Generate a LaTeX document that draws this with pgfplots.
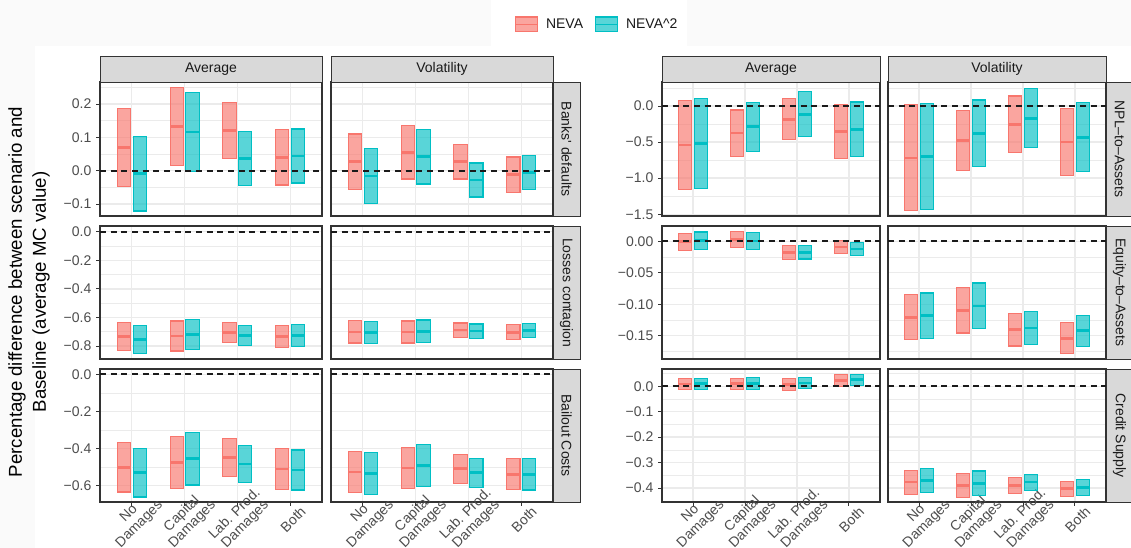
\documentclass[border=0pt]{standalone}
\usepackage{fontspec}
\setmainfont{Liberation Sans}
\usepackage{pgfplots}
\pgfplotsset{compat=1.18}
\definecolor{cR}{HTML}{F8766D}
\definecolor{cT}{HTML}{00BFC4}
\definecolor{g10}{HTML}{1A1A1A}
\definecolor{g20}{HTML}{333333}
\definecolor{g30}{HTML}{4D4D4D}
\definecolor{g85}{HTML}{D9D9D9}
\definecolor{g92}{HTML}{EBEBEB}
\definecolor{bgc}{HTML}{FAFAFA}
\newcommand{\tickfont}{\fontsize{10.5}{12}\selectfont}
% box: colour, x-left, x-right, low, middle, high
\newcommand{\bx}[6]{%
\addplot[draw=#1, fill=#1, fill opacity=0.65, line width=0.8pt] coordinates {(#2,#4) (#3,#4) (#3,#6) (#2,#6)} -- cycle;
\addplot[draw=#1, line width=2pt] coordinates {(#2,#5) (#3,#5)};}
% one category: NEVA (low, mid, high), NEVA^2 (low, mid, high)
\newcommand{\cA}[6]{\bx{cR}{0.725}{0.975}{#1}{#2}{#3}\bx{cT}{1.025}{1.275}{#4}{#5}{#6}}
\newcommand{\cB}[6]{\bx{cR}{1.725}{1.975}{#1}{#2}{#3}\bx{cT}{2.025}{2.275}{#4}{#5}{#6}}
\newcommand{\cC}[6]{\bx{cR}{2.725}{2.975}{#1}{#2}{#3}\bx{cT}{3.025}{3.275}{#4}{#5}{#6}}
\newcommand{\cD}[6]{\bx{cR}{3.725}{3.975}{#1}{#2}{#3}\bx{cT}{4.025}{4.275}{#4}{#5}{#6}}
\newcommand{\zline}{\addplot[g10, line width=1.3pt, dash pattern=on 4.5pt off 3.5pt] coordinates {(0.4,0) (4.6,0)};}
\pgfplotsset{
 panel/.style={scale only axis, xmin=0.4, xmax=4.6, xtick={1,2,3,4}, xticklabels={},
  axis line style={draw=g20, line width=0.8pt}, major tick length=3pt, minor tick length=0pt,
  tick align=outside, tick pos=left, xmajorgrids, ymajorgrids, yminorgrids,
  major grid style={draw=g92, line width=1pt}, minor grid style={draw=g92, line width=0.5pt},
  tick style={draw=g20, line width=0.6pt}, xtick style={draw=none},
  ticklabel style={font=\tickfont, text=g30}},
 cL1/.style={width=166.5pt}, cL2/.style={width=166.5pt, yticklabels={}, ytick style={draw=none}},
 cR1/.style={width=163.5pt}, cR2/.style={width=163.5pt, yticklabels={}, ytick style={draw=none}},
 bottom/.style={xtick style={draw=g20, line width=0.6pt},
  xticklabels={{No\\Damages},{Capital\\Damages},{Lab. Prod.\\Damages},{Both}},
  xticklabel style={yshift=-10pt, xshift=2pt, rotate=45, anchor=center, align=center, font=\fontsize{10.5}{11}\selectfont}},
 rL1/.style={height=100.5pt, ymin=-0.136, ymax=0.266, ytick={-0.1,0,0.1,0.2}, yticklabels={−0.1,0.0,0.1,0.2}, minor ytick={-0.05,0.05,0.15,0.25}},
 rL2/.style={height=99.75pt, ymin=-0.891, ymax=0.04, ytick={-0.8,-0.6,-0.4,-0.2,0}, yticklabels={−0.8,−0.6,−0.4,−0.2,0.0}, minor ytick={-0.7,-0.5,-0.3,-0.1}},
 rL3/.style={height=99.75pt, ymin=-0.69, ymax=0.029, ytick={-0.6,-0.4,-0.2,0}, yticklabels={−0.6,−0.4,−0.2,0.0}, minor ytick={-0.5,-0.3,-0.1}},
 rR1/.style={height=100.5pt, ymin=-1.524, ymax=0.332, ytick={-1.5,-1,-0.5,0}, yticklabels={−1.5,−1.0,−0.5,0.0}, minor ytick={-1.25,-0.75,-0.25,0.25}},
 rR2/.style={height=99.75pt, ymin=-0.187, ymax=0.0243, ytick={-0.15,-0.1,-0.05,0}, yticklabels={−0.15,−0.10,−0.05,0.00}, minor ytick={-0.175,-0.125,-0.075,-0.025}},
 rR3/.style={height=99.75pt, ymin=-0.455, ymax=0.068, ytick={-0.4,-0.3,-0.2,-0.1,0}, yticklabels={−0.4,−0.3,−0.2,−0.1,0.0}, minor ytick={-0.35,-0.25,-0.15,-0.05,0.05}},
}
\begin{document}
\begin{tikzpicture}
\begin{scope}[x=0.75pt,y=0.75pt]
\fill[bgc] (0,0) rectangle (1131,548);
\fill[white] (35,0) rectangle (1131,502);
\fill[white] (491,502) rectangle (687,548);
\end{scope}
% ---------- Left group, row 1: Banks' defaults
\begin{axis}[panel, cL1, rL1, at={(75pt,249pt)},
  legend style={at={(2.24,1.429)}, anchor=center, draw=none, fill=none, font=\tickfont, text=g10,
  legend columns=2, /tikz/every even column/.append style={column sep=6.5pt},
  /tikz/every odd column/.append style={column sep=4pt}}]
\addlegendimage{legend image code/.code={\draw[draw=cR, fill=cR, fill opacity=0.65, line width=0.8pt] (0pt,-5.6pt) rectangle (16.5pt,5.6pt); \draw[cR, line width=1.2pt] (0pt,0pt) -- (16.5pt,0pt);}}
\addlegendentry{NEVA}
\addlegendimage{legend image code/.code={\draw[draw=cT, fill=cT, fill opacity=0.65, line width=0.8pt] (0pt,-5.6pt) rectangle (16.5pt,5.6pt); \draw[cT, line width=1.2pt] (0pt,0pt) -- (16.5pt,0pt);}}
\addlegendentry{NEVA\textasciicircum 2}
\cA{-0.048}{0.069}{0.186}{-0.121}{-0.009}{0.103}
\cB{0.015}{0.132}{0.249}{-0.002}{0.116}{0.234}
\cC{0.037}{0.121}{0.205}{-0.044}{0.037}{0.118}
\cD{-0.043}{0.040}{0.123}{-0.037}{0.044}{0.125}
\zline
\end{axis}
\begin{axis}[panel, rL1, cL2, at={(248.25pt,249pt)}]
\cA{-0.056}{0.027}{0.110}{-0.098}{-0.016}{0.066}
\cB{-0.025}{0.055}{0.135}{-0.040}{0.042}{0.124}
\cC{-0.025}{0.027}{0.079}{-0.079}{-0.028}{0.023}
\cD{-0.065}{-0.012}{0.041}{-0.056}{-0.005}{0.046}
\zline
\end{axis}
% ---------- Left group, row 2: Losses contagion
\begin{axis}[panel, cL1, rL2, at={(75pt,141.75pt)}]
\cA{-0.833}{-0.733}{-0.633}{-0.855}{-0.755}{-0.655}
\cB{-0.835}{-0.730}{-0.625}{-0.825}{-0.719}{-0.613}
\cC{-0.778}{-0.706}{-0.634}{-0.798}{-0.726}{-0.654}
\cD{-0.809}{-0.733}{-0.657}{-0.805}{-0.728}{-0.651}
\zline
\end{axis}
\begin{axis}[panel, rL2, cL2, at={(248.25pt,141.75pt)}]
\cA{-0.779}{-0.701}{-0.623}{-0.784}{-0.707}{-0.630}
\cB{-0.779}{-0.702}{-0.625}{-0.776}{-0.697}{-0.618}
\cC{-0.739}{-0.689}{-0.639}{-0.746}{-0.696}{-0.646}
\cD{-0.757}{-0.704}{-0.651}{-0.743}{-0.692}{-0.641}
\zline
\end{axis}
% ---------- Left group, row 3: Bailout Costs
\begin{axis}[panel, cL1, rL3, bottom, at={(75pt,34.5pt)}]
\cA{-0.636}{-0.502}{-0.368}{-0.663}{-0.531}{-0.399}
\cB{-0.617}{-0.477}{-0.337}{-0.598}{-0.456}{-0.314}
\cC{-0.550}{-0.448}{-0.346}{-0.586}{-0.485}{-0.384}
\cD{-0.620}{-0.511}{-0.402}{-0.625}{-0.517}{-0.409}
\zline
\end{axis}
\begin{axis}[panel, rL3, cL2, bottom, at={(248.25pt,34.5pt)}]
\cA{-0.640}{-0.528}{-0.416}{-0.650}{-0.537}{-0.424}
\cB{-0.619}{-0.506}{-0.393}{-0.607}{-0.492}{-0.377}
\cC{-0.588}{-0.510}{-0.432}{-0.610}{-0.532}{-0.454}
\cD{-0.624}{-0.540}{-0.456}{-0.625}{-0.540}{-0.455}
\zline
\end{axis}
% ---------- Right group, row 1: NPL-to-Assets
\begin{axis}[panel, cR1, rR1, at={(496.5pt,249pt)}]
\cA{-1.160}{-0.540}{0.080}{-1.140}{-0.519}{0.102}
\cB{-0.696}{-0.376}{-0.056}{-0.629}{-0.289}{0.051}
\cC{-0.471}{-0.187}{0.097}{-0.425}{-0.115}{0.195}
\cD{-0.729}{-0.353}{0.023}{-0.701}{-0.323}{0.055}
\zline
\end{axis}
\begin{axis}[panel, rR1, cR2, at={(666pt,249pt)}]
\cA{-1.454}{-0.720}{0.014}{-1.431}{-0.697}{0.037}
\cB{-0.896}{-0.478}{-0.060}{-0.841}{-0.379}{0.083}
\cC{-0.646}{-0.254}{0.138}{-0.580}{-0.170}{0.240}
\cD{-0.964}{-0.498}{-0.032}{-0.914}{-0.436}{0.042}
\zline
\end{axis}
% ---------- Right group, row 2: Equity-to-Assets
\begin{axis}[panel, cR1, rR2, at={(496.5pt,141.75pt)}]
\cA{-0.0143}{-0.0008}{0.0127}{-0.0128}{0.0010}{0.0148}
\cB{-0.0105}{0.0027}{0.0159}{-0.0134}{0.0002}{0.0138}
\cC{-0.0282}{-0.0178}{-0.0074}{-0.0281}{-0.0175}{-0.0069}
\cD{-0.0196}{-0.0090}{0.0016}{-0.0229}{-0.0125}{-0.0021}
\zline
\end{axis}
\begin{axis}[panel, rR2, cR2, at={(666pt,141.75pt)}]
\cA{-0.1564}{-0.1208}{-0.0852}{-0.1542}{-0.1182}{-0.0822}
\cB{-0.1457}{-0.1097}{-0.0737}{-0.1389}{-0.1026}{-0.0663}
\cC{-0.1664}{-0.1404}{-0.1144}{-0.1643}{-0.1378}{-0.1113}
\cD{-0.1787}{-0.1540}{-0.1293}{-0.1676}{-0.1420}{-0.1176}
\zline
\end{axis}
% ---------- Right group, row 3: Credit Supply
\begin{axis}[panel, cR1, rR3, bottom, at={(496.5pt,34.5pt)}]
\cA{-0.012}{0.009}{0.030}{-0.011}{0.010}{0.031}
\cB{-0.011}{0.010}{0.031}{-0.011}{0.011}{0.033}
\cC{-0.015}{0.007}{0.029}{-0.009}{0.013}{0.035}
\cD{0.001}{0.024}{0.047}{0.004}{0.026}{0.048}
\zline
\end{axis}
\begin{axis}[panel, rR3, cR2, bottom, at={(666pt,34.5pt)}]
\cA{-0.424}{-0.377}{-0.330}{-0.418}{-0.370}{-0.322}
\cB{-0.436}{-0.389}{-0.342}{-0.429}{-0.381}{-0.333}
\cC{-0.420}{-0.390}{-0.360}{-0.408}{-0.377}{-0.346}
\cD{-0.433}{-0.403}{-0.373}{-0.428}{-0.397}{-0.366}
\zline
\end{axis}
% ---------- strips and title
\begin{scope}[x=0.75pt,y=0.75pt, strip/.style={fill=g85, draw=g20, line width=0.6pt}, stxt/.style={font=\tickfont, text=g10}]
\draw[strip] (100,466) rectangle (322,492); \node[stxt] at (211,479) {Average};
\draw[strip] (331,466) rectangle (553,492); \node[stxt] at (442,479) {Volatility};
\draw[strip] (662,466) rectangle (880,492); \node[stxt] at (771,479) {Average};
\draw[strip] (888,466) rectangle (1106,492); \node[stxt] at (997,479) {Volatility};
\draw[strip] (553,332) rectangle (580,466); \node[stxt, rotate=-90] at (566.5,399) {Banks\textquotesingle\ defaults};
\draw[strip] (553,189) rectangle (580,322); \node[stxt, rotate=-90] at (566.5,255.5) {Losses contagion};
\draw[strip] (553,46) rectangle (580,179); \node[stxt, rotate=-90] at (566.5,112.5) {Bailout Costs};
\draw[strip] (1106,332) rectangle (1133,466); \node[stxt, rotate=-90] at (1119.5,399) {NPL–to–Assets};
\draw[strip] (1106,189) rectangle (1133,322); \node[stxt, rotate=-90] at (1119.5,255.5) {Equity–to–Assets};
\draw[strip] (1106,46) rectangle (1133,179); \node[stxt, rotate=-90] at (1119.5,112.5) {Credit Supply};
\node[rotate=90, align=center, font=\fontsize{14}{18}\selectfont] at (29,256) {Percentage difference between scenario and\\Baseline (average MC value)};
\end{scope}
\pgfresetboundingbox
\useasboundingbox (0,0) rectangle (848.25pt,411pt);
\end{tikzpicture}
\end{document}
